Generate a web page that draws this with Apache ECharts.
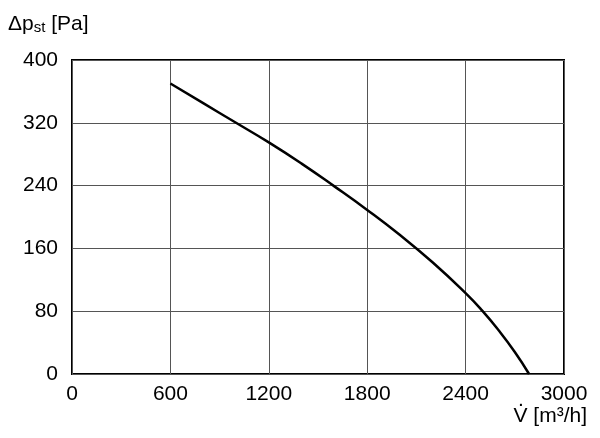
<!DOCTYPE html>
<html>
<head>
<meta charset="utf-8">
<script src="https://cdn.jsdelivr.net/npm/echarts@6/dist/echarts.min.js"></script>
<style>
  html, body { margin: 0; padding: 0; background: #fff; }
  #chart { width: 600px; height: 438px; }
</style>
</head>
<body>
<div id="chart"></div>
<script>
var flowValues = [600, 800, 1000, 1200, 1400, 1600, 1800, 2000, 2200, 2400, 2500, 2600, 2700, 2787];
var pressureValues = [370, 345, 320, 295, 268, 239, 209, 177, 142, 103, 81, 56, 28, 0];
var xTicks = [0, 600, 1200, 1800, 2400, 3000];
var yTicks = [0, 80, 160, 240, 320, 400];

var font = "'Liberation Sans', Arial, sans-serif";
var chart = echarts.init(document.getElementById('chart'));

var curve = flowValues.map(function (v, i) { return [v, pressureValues[i]]; });

var option = {
    animation: false,
    grid: {
        left: 72,
        right: 36,
        top: 60,
        bottom: 64,
        show: true,
        borderColor: '#000',
        borderWidth: 2
    },
    xAxis: {
        type: 'value',
        min: xTicks[0],
        max: xTicks[xTicks.length - 1],
        interval: 600,
        axisLine: { show: false },
        axisTick: { show: false },
        splitLine: { lineStyle: { color: '#555', width: 1 } },
        axisLabel: {
            color: '#000', fontSize: 21, fontFamily: font, margin: 10,
            formatter: function (v) { return String(v); }
        }
    },
    yAxis: {
        type: 'value',
        min: yTicks[0],
        max: yTicks[yTicks.length - 1],
        interval: 80,
        axisLine: { show: false },
        axisTick: { show: false },
        splitLine: { lineStyle: { color: '#555', width: 1 } },
        axisLabel: {
            color: '#000', fontSize: 21, fontFamily: font, margin: 14,
            formatter: function (v) { return String(v); }
        }
    },
    graphic: [
        {
            type: 'text',
            left: 8,
            top: 14,
            style: {
                text: '{a|Δp}{s|st}{a| [Pa]}',
                rich: {
                    a: { fontSize: 21, fontFamily: font, fill: '#000', lineHeight: 26, verticalAlign: 'bottom' },
                    s: { fontSize: 15, fontFamily: font, fill: '#000', lineHeight: 22, verticalAlign: 'bottom' }
                }
            }
        },
        {
            type: 'text',
            right: 13,
            top: 406,
            style: {
                text: 'V [m³/h]',
                fontSize: 21,
                fontFamily: font,
                fill: '#000'
            }
        },
        {
            type: 'text',
            z: 10,
            x: 521,
            y: 390,
            style: {
                text: '.',
                fontSize: 21,
                fontFamily: font,
                fill: '#000',
                align: 'center',
                verticalAlign: 'top'
            }
        }
    ],
    series: [{
        type: 'line',
        data: curve,
        smooth: 0.5,
        showSymbol: false,
        lineStyle: { color: '#000', width: 2.5 }
    }]
};
chart.setOption(option);
</script>
</body>
</html>
